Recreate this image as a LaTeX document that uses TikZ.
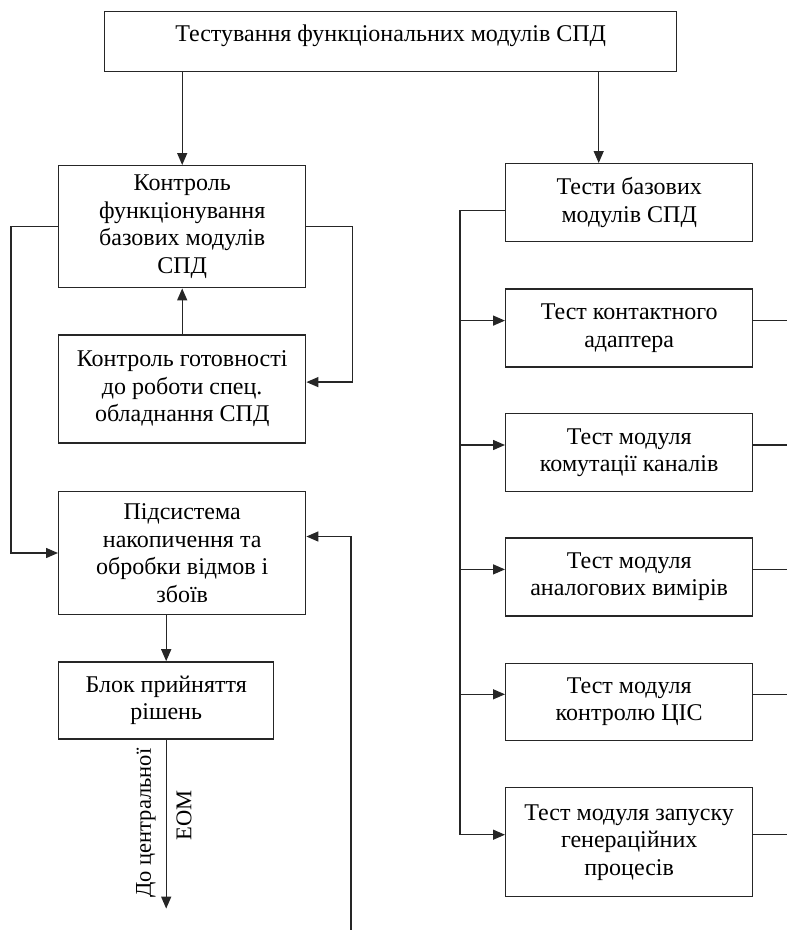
\documentclass[tikz,border=0pt]{standalone}
\usepackage{fontspec}
\setmainfont{Liberation Serif}
\usetikzlibrary{arrows.meta,positioning,calc}
\tikzset{
  block/.style={draw=black!85,line width=1.4pt,align=center,inner sep=2pt,anchor=north west,font=\fontsize{24}{27.5}\selectfont},
  arrow/.style={-{Triangle[length=12pt,width=10pt]},line width=1.4pt,draw=black!85},
  link/.style={line width=1.4pt,draw=black!85},
  vlabel/.style={rotate=90,font=\fontsize{22.5}{26}\selectfont}
}

\begin{document}
\begin{tikzpicture}[x=1pt,y=-1pt]
  \useasboundingbox (0,0) rectangle (787,930);

  \node (title) [block,minimum width=572pt,minimum height=60pt,text depth=18pt] at (104,11) {Тестування функціональних модулів СПД};

  % left column
  \node (kontrol) [block,minimum width=247pt,minimum height=122pt] at (58,165) {Контроль\\функціонування\\базових модулів\\СПД};
  \node (gotov) [block,minimum width=247pt,minimum height=108pt,below=46pt of kontrol] {Контроль готовності\\до роботи спец.\\обладнання СПД};
  \node (pidsys) [block,minimum width=247pt,minimum height=123pt,below=47pt of gotov] {Підсистема\\накопичення та\\обробки відмов і\\збоїв};
  \node (blok) [block,minimum width=215pt,minimum height=77pt,below=46pt of pidsys.south west,anchor=north west] {Блок прийняття\\рішень};
  \coordinate (eom) at ($(blok.south)+(0,169)$);
  \coordinate (feed) at (351,930);
  \node (lbl1) [vlabel] at (146,823) {До центральної};
  \node (lbl2) [vlabel] at (184,815) {ЕОМ};

  % right column
  \node (testy) [block,minimum width=247pt,minimum height=78pt] at (505,163) {Тести базових\\модулів СПД};
  \node (t1) [block,minimum width=247pt,minimum height=78pt,below=46pt of testy] {Тест контактного\\адаптера};
  \node (t2) [block,minimum width=247pt,minimum height=78pt,below=45pt of t1] {Тест модуля\\комутації каналів};
  \node (t3) [block,minimum width=247pt,minimum height=78pt,below=45pt of t2] {Тест модуля\\аналогових вимірів};
  \node (t4) [block,minimum width=247pt,minimum height=77pt,below=46pt of t3] {Тест модуля\\контролю ЦІС};
  \node (t5) [block,minimum width=247pt,minimum height=109pt,below=46pt of t4] {Тест модуля запуску\\генераційних\\процесів};
  \coordinate (bus) at (460,0);
  \coordinate (edge) at (787,0);

  \draw[arrow] (title.south -| kontrol.north) -- (kontrol.north);
  \draw[arrow] ([xshift=-30.5pt]title.south -| testy.north) -- ([xshift=-30.5pt]testy.north);
  \draw[arrow] (gotov.north) -- (kontrol.south);
  \draw[arrow] (kontrol.west) -- ++(-47,0) |- (pidsys.west);
  \draw[arrow] (kontrol.east) -- ++(46,0) |- ([yshift=7pt]gotov.east);
  \draw[arrow] (feed) |- ([yshift=16.5pt]pidsys.east);
  \draw[arrow] (pidsys.south -| blok.north) -- (blok.north);
  \draw[arrow] (blok.south) -- (eom);

  \draw[link] ([yshift=-8pt]testy.west) -| ([yshift=7.5pt]t5.west -| bus);
  \foreach \t in {t1,t2,t3,t4,t5}{
    \draw[arrow] ([yshift=7.5pt]\t.west -| bus) -- ([yshift=7.5pt]\t.west);
    \draw[link] ([yshift=7.5pt]\t.east) -- ([yshift=7.5pt]\t.east -| edge);
  }
\end{tikzpicture}
\end{document}
